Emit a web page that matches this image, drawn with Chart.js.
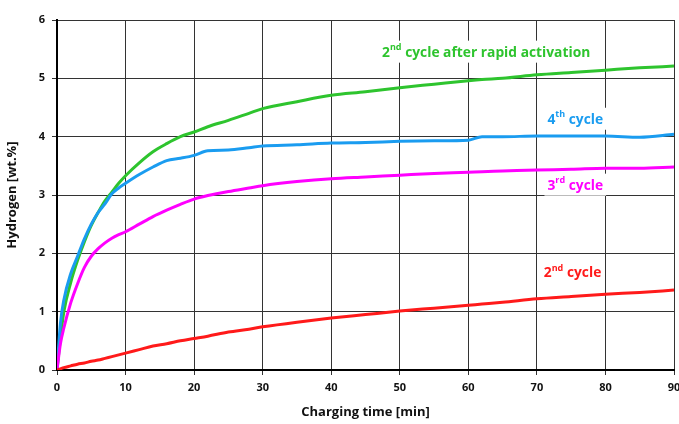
<!DOCTYPE html>
<html>
<head>
<meta charset="utf-8">
<script src="https://cdn.jsdelivr.net/npm/chart.js@4/dist/chart.umd.min.js"></script>
<style>
  html, body { margin: 0; padding: 0; background: #fff; }
  #wrap { width: 679px; height: 424px; }
</style>
</head>
<body>
<div id="wrap"><canvas id="myChart" width="679" height="424"></canvas></div>
<script>
// charging time [min] for every series
const times = [0, 0.5, 1, 2, 3, 4, 5, 6, 7, 8, 9, 10, 12, 14, 16, 18, 20, 22, 25, 28, 30, 35, 40, 45, 50, 55, 60, 62, 65, 70, 75, 80, 85, 90];

// hydrogen [wt.%]
const rapidCycle2 = [0, 0.55, 1.0, 1.5, 1.88, 2.2, 2.48, 2.7, 2.9, 3.05, 3.2, 3.33, 3.55, 3.74, 3.88, 4.0, 4.08, 4.17, 4.28, 4.4, 4.48, 4.6, 4.71, 4.77, 4.84, 4.9, 4.96, 4.98, 5.0, 5.06, 5.1, 5.14, 5.18, 5.21];
const cycle4 = [0, 0.8, 1.2, 1.65, 1.95, 2.25, 2.5, 2.7, 2.85, 3.02, 3.12, 3.2, 3.35, 3.48, 3.59, 3.63, 3.68, 3.76, 3.77, 3.81, 3.84, 3.86, 3.89, 3.9, 3.92, 3.93, 3.94, 4.0, 4.0, 4.01, 4.01, 4.01, 3.99, 4.04];
const cycle3 = [0, 0.45, 0.72, 1.15, 1.48, 1.76, 1.95, 2.08, 2.18, 2.26, 2.32, 2.37, 2.5, 2.63, 2.74, 2.84, 2.93, 2.99, 3.06, 3.12, 3.16, 3.23, 3.28, 3.31, 3.34, 3.37, 3.39, 3.4, 3.41, 3.43, 3.44, 3.46, 3.46, 3.48];
const cycle2 = [0, 0.02, 0.04, 0.07, 0.1, 0.12, 0.15, 0.17, 0.2, 0.23, 0.26, 0.29, 0.35, 0.41, 0.45, 0.5, 0.54, 0.58, 0.65, 0.7, 0.74, 0.82, 0.89, 0.95, 1.01, 1.06, 1.11, 1.13, 1.16, 1.22, 1.26, 1.3, 1.33, 1.37];

const seriesColors = ['#ff1a1a', '#ff00ff', '#1a9cf0', '#2ec42e'];

// in-plot labels: main text, superscript, rest, position in data units
const labelMain = ['2', '4', '3', '2'];
const labelSup = ['nd', 'th', 'rd', 'nd'];
const labelRest = [' cycle after rapid activation', ' cycle', ' cycle', ' cycle'];
const labelX = [62.6, 75.6, 75.6, 75.2];
const labelY = [5.44, 4.29, 3.16, 1.66];
const labelColors = ['#2ec42e', '#1a9cf0', '#ff00ff', '#ff1a1a'];

function pts(ys) {
    return times.map((t, i) => ({ x: t, y: ys[i] }));
}

const labelPlugin = {
    id: 'cycleLabels',
    afterDatasetsDraw(chart) {
        const c = chart.ctx;
        const xs = chart.scales.x, ys = chart.scales.y;
        c.save();
        c.textBaseline = 'middle';
        for (let i = 0; i < labelMain.length; i++) {
            const big = 'bold 13.8px "Open Sans"';
            const small = 'bold 9px "Open Sans"';
            c.font = big;
            const w1 = c.measureText(labelMain[i]).width;
            const w3 = c.measureText(labelRest[i]).width;
            c.font = small;
            const w2 = c.measureText(labelSup[i]).width;
            const total = w1 + w2 + w3;
            let px = xs.getPixelForValue(labelX[i]) - total / 2;
            const py = ys.getPixelForValue(labelY[i]);
            // white box so the grid stops behind the text
            c.fillStyle = '#fff';
            c.fillRect(px - 3, py - 12, total + 6, 22);
            c.fillStyle = labelColors[i];
            c.textAlign = 'left';
            c.font = big;
            c.fillText(labelMain[i], px, py);
            c.font = small;
            c.fillText(labelSup[i], px + w1, py - 5);
            c.font = big;
            c.fillText(labelRest[i], px + w1 + w2, py);
        }
        c.restore();
    }
};

const ctx = document.getElementById('myChart');
const myChart = new Chart(ctx, {
    type: 'line',
    data: {
        datasets: [
            { label: '2nd cycle', data: pts(cycle2), borderColor: seriesColors[0] },
            { label: '3rd cycle', data: pts(cycle3), borderColor: seriesColors[1] },
            { label: '4th cycle', data: pts(cycle4), borderColor: seriesColors[2] },
            { label: '2nd cycle after rapid activation', data: pts(rapidCycle2), borderColor: seriesColors[3] }
        ]
    },
    options: {
        responsive: false,
        animation: false,
        elements: {
            point: { radius: 0 },
            line: { borderWidth: 3, cubicInterpolationMode: 'monotone', fill: false }
        },
        layout: { padding: { left: 0, right: 5, top: 20, bottom: 0 } },
        plugins: {
            legend: { display: false },
            tooltip: { enabled: false }
        },
        scales: {
            x: {
                type: 'linear',
                min: 0,
                max: 90,
                ticks: { stepSize: 10, color: '#111', padding: 6, font: { family: 'Open Sans', size: 11, weight: 'bold' } },
                grid: { color: '#333', lineWidth: 1, tickLength: 5 },
                border: { color: '#000', width: 2 },
                title: { display: true, text: 'Charging time [min]', color: '#111', padding: { top: 8 }, font: { family: 'Open Sans', size: 13, weight: 'bold' } },
                afterFit(scale) { scale.height = 54; scale.paddingRight = 0; scale.paddingLeft = 0; }
            },
            y: {
                min: 0,
                max: 6,
                ticks: { stepSize: 1, color: '#111', padding: 7, font: { family: 'Open Sans', size: 11, weight: 'bold' } },
                grid: { color: '#333', lineWidth: 1, tickLength: 5 },
                border: { color: '#000', width: 2 },
                title: { display: true, text: 'Hydrogen [wt.%]', color: '#111', padding: { bottom: 4 }, font: { family: 'Open Sans', size: 13, weight: 'bold' } },
                afterFit(scale) { scale.width = 57; scale.paddingTop = 0; scale.paddingBottom = 0; }
            }
        }
    },
    plugins: [labelPlugin]
});
</script>
</body>
</html>
